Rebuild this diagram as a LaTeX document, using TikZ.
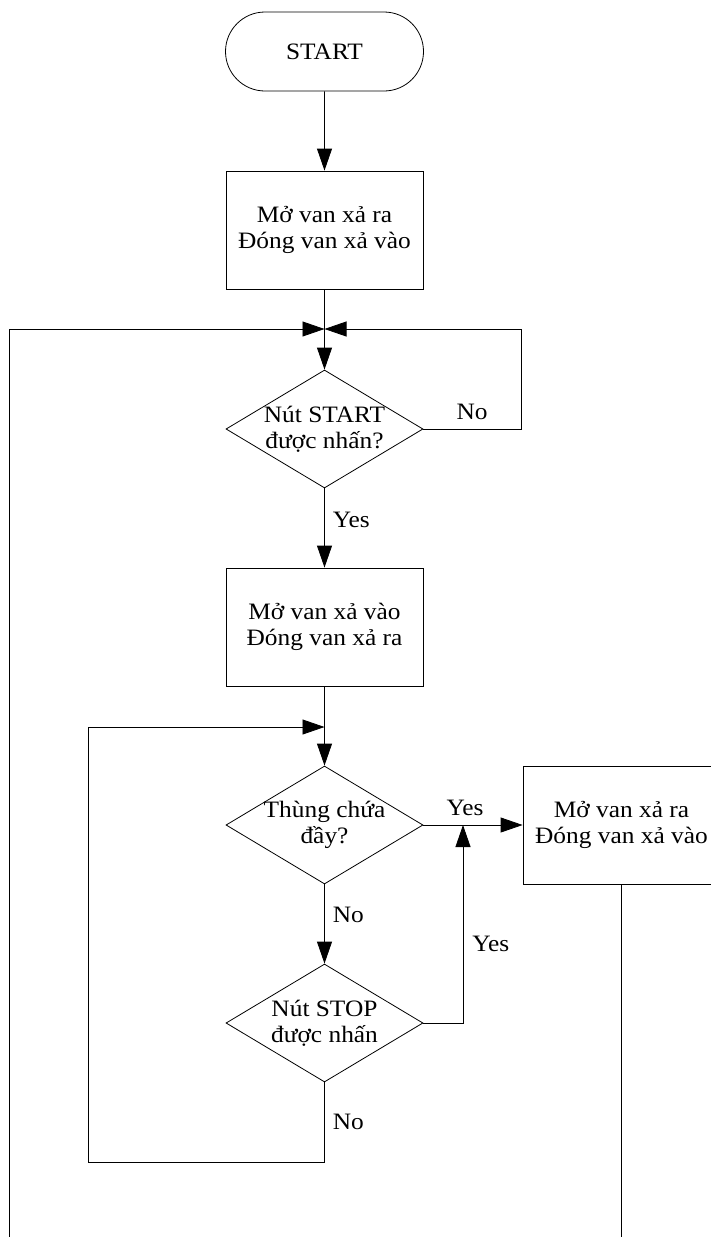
\documentclass[tikz,border=0pt]{standalone}
\usepackage{fontspec}
\setmainfont[FakeStretch=1.08]{Liberation Serif}
\usetikzlibrary{arrows.meta, positioning, shapes.geometric, shapes.misc}

\begin{document}
\begin{tikzpicture}[x=1pt, y=-1pt, line width=0.8pt,
        font=\fontsize{23.5}{26}\selectfont,
        every node/.style={inner sep=0pt},
        terminal/.style={draw, rounded rectangle, minimum width=198pt, minimum height=79pt},
        process/.style={draw, rectangle, minimum width=197pt, minimum height=118pt, align=center},
        decision/.style={draw, diamond, shape aspect=1.67, inner xsep=-12pt, minimum width=197pt, minimum height=118pt, align=center},
        flow/.style={-{Triangle[length=22pt, width=15pt]}},
        lbl/.style={inner sep=2pt}]
        \useasboundingbox (0,0) rectangle (711,1237);
        \clip (0,0) rectangle (711,1237);

        % Start
        \node[terminal] (start) at (324.5,51.5) {START};

        % Box 1 (initial valve state)
        \node[process] (open1) at (324.5,230) {Mở van xả ra\\Đóng van xả vào};

        % Decision 1 (start button)
        \node[decision] (startbtn) at (324.5,429) {Nút START\\được nhấn?};

        % Box 2 (filling)
        \node[process] (fill) at (324.5,627) {Mở van xả vào\\Đóng van xả ra};

        % Decision 2 (tank full)
        \node[decision] (full) at (324.5,825) {Thùng chứa\\đầy?};

        % Decision 3 (stop button)
        \node[decision] (stopbtn) at (324.5,1023) {Nút STOP\\được nhấn};

        % Box 3 (draining, right side, runs off the edge)
        \node[process] (drain) at (621.5,825) {Mở van xả ra\\Đóng van xả vào};

        % Junctions and loose ends
        \coordinate (j1) at (324.5,329);
        \coordinate (j2) at (324.5,727);
        \coordinate (merge) at (463,825);
        \coordinate (loopcorner) at (88,1162);
        \coordinate (leftend) at (9,1237);
        \coordinate (drainend) at (621.5,1237);

        % Main column
        \draw[flow] (start) -- (open1);
        \draw (open1) -- (j1);
        \draw[flow] (j1) -- (startbtn);
        \draw[flow] (startbtn) -- node[lbl, pos=0.4, right=6pt] {Yes} (fill);
        \draw (fill) -- (j2);
        \draw[flow] (j2) -- (full);
        \draw[flow] (full) -- node[lbl, pos=0.39, right=6pt] {No} (stopbtn);

        % Loops back up
        \draw[flow] (leftend) |- (j1);
        \draw[flow] (startbtn.east) -- node[lbl, above=7pt] {No} ++(97.5,0) |- (j1);
        \draw[flow] (stopbtn) |- node[lbl, pos=0.25, right=6pt] {No} (loopcorner) |- (j2);

        % Yes branches to the drain box
        \draw[flow] (full) -- node[lbl, pos=0.42, above=7pt] {Yes} (drain);
        \draw[flow] (stopbtn.east) -| node[lbl, pos=0.7, right=7pt] {Yes} (merge);
        \draw (drain) -- (drainend);
\end{tikzpicture}
\end{document}
